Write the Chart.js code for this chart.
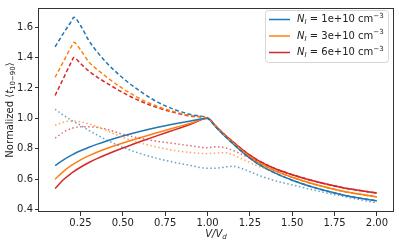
<!DOCTYPE html>
<html>
<head>
<meta charset="utf-8">
<script src="https://cdn.jsdelivr.net/npm/chart.js@4"></script>
<style>
  html, body { margin: 0; padding: 0; background: #fff; }
</style>
</head>
<body>
<canvas id="myChart" width="399" height="245"></canvas>
<script>
// V / V_d sample points
const vRatio = [0.1, 0.15, 0.2, 0.21, 0.25, 0.3, 0.35, 0.4, 0.5, 0.6, 0.7, 0.8, 0.9, 1.0,
  1.05, 1.1, 1.15, 1.2, 1.25, 1.3, 1.4, 1.5, 1.6, 1.7, 1.8, 1.9, 2.0];

const densityLabels = ["1e+10", "3e+10", "6e+10"];

// solid lines (the ones in the legend)
const solid1e10 = [0.69, 0.728, 0.76, 0.766, 0.787, 0.81, 0.831, 0.85, 0.884, 0.914, 0.94, 0.963, 0.983, 1.0,
  0.942, 0.886, 0.834, 0.784, 0.738, 0.70, 0.64, 0.594, 0.556, 0.524, 0.497, 0.476, 0.458];
const solid3e10 = [0.60, 0.652, 0.694, 0.701, 0.727, 0.755, 0.779, 0.80, 0.838, 0.873, 0.905, 0.937, 0.968, 1.0,
  0.945, 0.89, 0.84, 0.792, 0.748, 0.712, 0.655, 0.613, 0.577, 0.547, 0.521, 0.501, 0.484];
const solid6e10 = [0.54, 0.598, 0.643, 0.651, 0.679, 0.71, 0.737, 0.761, 0.805, 0.846, 0.885, 0.923, 0.961, 1.0,
  0.948, 0.894, 0.846, 0.80, 0.758, 0.723, 0.669, 0.63, 0.597, 0.569, 0.545, 0.526, 0.51];

// dashed lines
const dashed1e10 = [1.47, 1.56, 1.645, 1.665, 1.61, 1.51, 1.435, 1.37, 1.265, 1.18, 1.11, 1.06, 1.025, 1.0,
  0.942, 0.886, 0.834, 0.784, 0.738, 0.70, 0.64, 0.594, 0.556, 0.524, 0.497, 0.476, 0.458];
const dashed3e10 = [1.27, 1.375, 1.48, 1.50, 1.45, 1.37, 1.32, 1.275, 1.195, 1.13, 1.08, 1.045, 1.018, 1.0,
  0.945, 0.89, 0.84, 0.792, 0.748, 0.712, 0.655, 0.613, 0.577, 0.547, 0.521, 0.501, 0.484];
const dashed6e10 = [1.15, 1.265, 1.38, 1.40, 1.36, 1.31, 1.27, 1.235, 1.17, 1.115, 1.072, 1.04, 1.015, 1.0,
  0.948, 0.894, 0.846, 0.80, 0.758, 0.723, 0.669, 0.63, 0.597, 0.569, 0.545, 0.526, 0.51];

// dotted lines
const dotted1e10 = [1.06, 1.02, 0.985, 0.978, 0.955, 0.92, 0.89, 0.86, 0.81, 0.77, 0.738, 0.712, 0.69, 0.672,
  0.673, 0.68, 0.685, 0.672, 0.65, 0.627, 0.59, 0.563, 0.536, 0.511, 0.488, 0.466, 0.445];
const dotted3e10 = [0.955, 0.975, 0.982, 0.982, 0.978, 0.963, 0.945, 0.922, 0.875, 0.84, 0.812, 0.79, 0.776, 0.768,
  0.772, 0.774, 0.76, 0.735, 0.71, 0.685, 0.655, 0.613, 0.577, 0.547, 0.521, 0.501, 0.484];
const dotted6e10 = [0.87, 0.91, 0.935, 0.938, 0.945, 0.945, 0.94, 0.93, 0.895, 0.87, 0.85, 0.835, 0.82, 0.807,
  0.813, 0.808, 0.79, 0.765, 0.74, 0.72, 0.669, 0.63, 0.597, 0.569, 0.545, 0.526, 0.51];

const xTickValues = [0.25, 0.5, 0.75, 1.0, 1.25, 1.5, 1.75, 2.0];
const yTickValues = [0.4, 0.6, 0.8, 1.0, 1.2, 1.4, 1.6];

const colors = ["#1f77b4", "#ff7f0e", "#d62728"];
const FONT = '"DejaVu Sans", sans-serif';

const toPoints = arr => arr.map((y, i) => ({ x: vRatio[i], y }));

const line = (data, color, dash, alpha) => ({
  data: toPoints(data),
  borderColor: alpha ? color + alpha : color,
  borderWidth: 1.5,
  borderDash: dash,
  pointRadius: 0,
  fill: false,
  cubicInterpolationMode: "monotone",
});

const datasets = [
  line(dotted1e10, colors[0], [1.5, 2.5], "b0"),
  line(dotted3e10, colors[1], [1.5, 2.5], "b0"),
  line(dotted6e10, colors[2], [1.5, 2.5], "b0"),
  line(dashed1e10, colors[0], [4, 2.5]),
  line(dashed3e10, colors[1], [4, 2.5]),
  line(dashed6e10, colors[2], [4, 2.5]),
  line(solid1e10, colors[0], []),
  line(solid3e10, colors[1], []),
  line(solid6e10, colors[2], []),
];

// text with italics / sub / superscripts
function richWidth(ctx, parts, size) {
  let w = 0;
  parts.forEach(p => {
    const fs = p.sub || p.sup ? size * 0.7 : size;
    ctx.font = (p.it ? "italic " : "") + fs + "px " + FONT;
    w += ctx.measureText(p.t).width;
  });
  return w;
}
function drawRich(ctx, parts, x, y, size) {
  let cx = x;
  parts.forEach(p => {
    const fs = p.sub || p.sup ? size * 0.7 : size;
    ctx.font = (p.it ? "italic " : "") + fs + "px " + FONT;
    const dy = p.sub ? size * 0.28 : p.sup ? -size * 0.38 : 0;
    ctx.fillText(p.t, cx, y + dy);
    cx += ctx.measureText(p.t).width;
  });
}

const decorations = {
  id: "decorations",
  afterDraw(chart) {
    const { ctx, chartArea: a } = chart;
    ctx.save();
    // frame
    ctx.strokeStyle = "#333";
    ctx.lineWidth = 1;
    ctx.strokeRect(Math.round(a.left) - 0.5, Math.round(a.top) + 0.5,
      Math.round(a.right - a.left) + 1, Math.round(a.bottom - a.top) - 1);

    ctx.fillStyle = "#222";
    ctx.textBaseline = "middle";

    // x title
    const xt = [{ t: "V", it: true }, { t: "/", it: true }, { t: "V", it: true }, { t: "d", it: true, sub: true }];
    const xw = richWidth(ctx, xt, 10);
    drawRich(ctx, xt, (a.left + a.right) / 2 - xw / 2, 234, 10);

    // y title
    const yt = [{ t: "Normalized \u27e8" }, { t: "t", it: true }, { t: "10\u221290", sub: true }, { t: "\u27e9" }];
    const yw = richWidth(ctx, yt, 10);
    ctx.save();
    ctx.translate(10, (a.top + a.bottom) / 2);
    ctx.rotate(-Math.PI / 2);
    drawRich(ctx, yt, -yw / 2, 0, 10);
    ctx.restore();

    // legend
    const bx = 265.5, by = 10.5, bw = 123, bh = 52, r = 3;
    ctx.beginPath();
    ctx.roundRect(bx, by, bw, bh, r);
    ctx.fillStyle = "rgba(255,255,255,0.8)";
    ctx.fill();
    ctx.strokeStyle = "#d6d6d6";
    ctx.stroke();
    densityLabels.forEach((lab, i) => {
      const y = 19.5 + i * 16.5;
      ctx.strokeStyle = colors[i];
      ctx.lineWidth = 1.5;
      ctx.beginPath();
      ctx.moveTo(269, y);
      ctx.lineTo(290, y);
      ctx.stroke();
      ctx.fillStyle = "#222";
      drawRich(ctx, [
        { t: "N", it: true }, { t: "I", it: true, sub: true },
        { t: " = " + lab + " cm" }, { t: "\u22123", sup: true },
      ], 297, y, 10);
    });
    ctx.restore();
  },
};

new Chart("myChart", {
  type: "line",
  data: { datasets },
  options: {
    responsive: false,
    animation: false,
    layout: { padding: { top: 5, right: 6, bottom: 0, left: 0 } },
    plugins: { legend: { display: false }, tooltip: { enabled: false } },
    scales: {
      x: {
        type: "linear",
        min: 0.005,
        max: 2.095,
        afterFit: s => { s.height = 33; },
        afterBuildTicks: s => { s.ticks = xTickValues.map(v => ({ value: v })); },
        grid: { drawOnChartArea: false, drawTicks: true, tickLength: 4, color: "#333" },
        border: { display: false },
        ticks: {
          autoSkip: false,
          maxRotation: 0,
          padding: 1,
          color: "#222",
          font: { family: FONT, size: 10 },
          callback: v => v.toFixed(2),
        },
      },
      y: {
        min: 0.385,
        max: 1.725,
        afterFit: s => { s.width = 39; },
        afterBuildTicks: s => { s.ticks = yTickValues.map(v => ({ value: v })); },
        grid: { drawOnChartArea: false, drawTicks: true, tickLength: 4, color: "#333" },
        border: { display: false },
        ticks: {
          autoSkip: false,
          padding: 2,
          color: "#222",
          font: { family: FONT, size: 10 },
          callback: v => v.toFixed(1),
        },
      },
    },
  },
  plugins: [decorations],
});
</script>
</body>
</html>
